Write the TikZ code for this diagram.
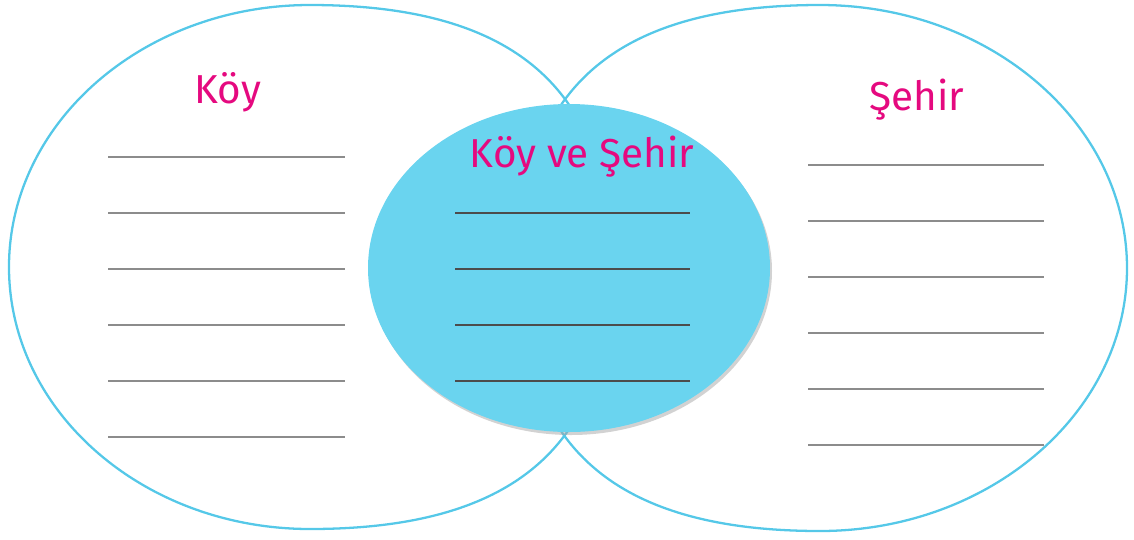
\documentclass[tikz,border=0pt]{standalone}
\usepackage{fontspec}
\setmainfont{Fira Sans}
\usepackage{tikz}
\definecolor{ring}{HTML}{55C8E8}
\definecolor{core}{HTML}{6AD4EF}
\definecolor{pink}{HTML}{E5097F}
\definecolor{rule}{HTML}{8C8C8C}

\begin{document}
\begin{tikzpicture}[x=0.02cm, y=-0.02cm,
      title/.style={text=pink, font=\fontsize{23}{27}\selectfont, inner sep=0pt},
      ring/.style={draw=ring, line width=1.3pt},
      blank/.style={draw=rule, line width=0.6pt}]
    \useasboundingbox (0,0) rectangle (1134,539);
    % outer shapes
    \draw[ring] (611,267) .. controls (611,89) and (515,5) .. (310,5)
      .. controls (144,5) and (9,122) .. (9,267)
      .. controls (9,412) and (144,529) .. (310,529)
      .. controls (515,529) and (611,445) .. (611,267) -- cycle;
    \draw[ring] (519,268) .. controls (519,89) and (615,5) .. (820,5)
      .. controls (989,5) and (1127,123) .. (1127,268)
      .. controls (1127,413) and (989,531) .. (820,531)
      .. controls (615,531) and (519,447) .. (519,268) -- cycle;
    % middle
    \fill[black!35, opacity=0.5] (571,271) ellipse [x radius=201, y radius=164];
    \fill[core] (569,268) ellipse [x radius=201, y radius=164];
    \node[title] (koy) at (228,92) {Köy};
    \node[title] (sehir) at (917,100) {Şehir};
    \node[title] (both) at (582,157) {Köy ve Şehir};
    \foreach \y in {157,213,...,437} \draw[blank] (108,\y) -- (345,\y);
    \foreach \y in {165,221,...,445} \draw[blank] (808,\y) -- (1044,\y);
    \foreach \y in {213,269,...,381} \draw[blank, draw=black!70] (455,\y) -- (690,\y);
  \end{tikzpicture}
\end{document}
